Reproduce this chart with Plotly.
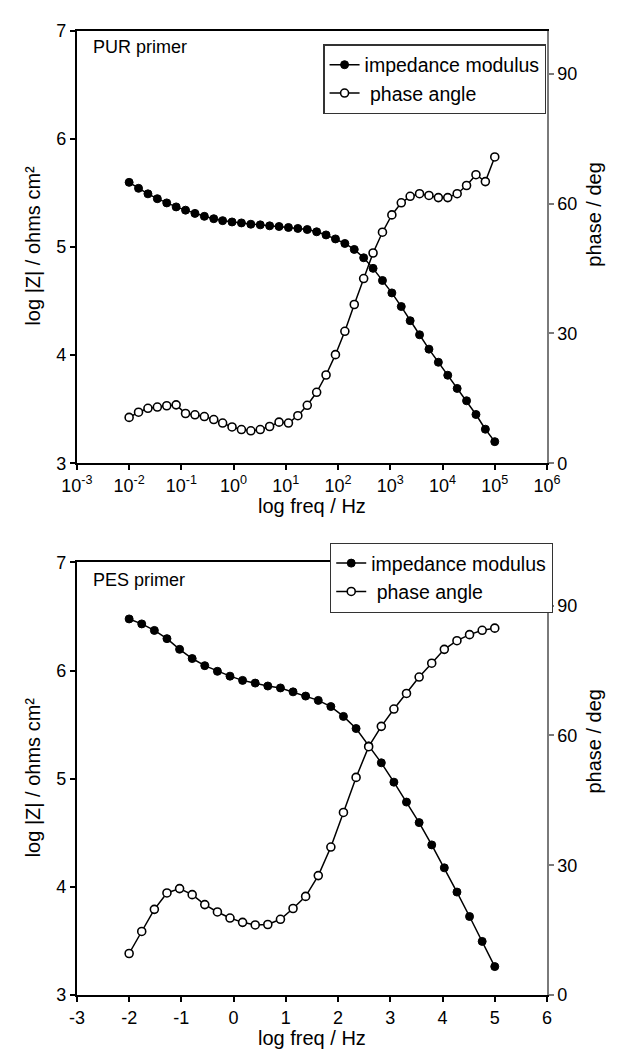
import plotly.graph_objects as go

W, H = 620, 1059

# ---------------- data ----------------
# PUR primer (top): log10 frequency of each measurement point
pur_logf = [-2.00, -1.82, -1.64, -1.46, -1.28, -1.10, -0.92, -0.74, -0.56, -0.38,
            -0.21, -0.03, 0.15, 0.33, 0.51, 0.69, 0.87, 1.05, 1.23, 1.41,
            1.59, 1.77, 1.95, 2.13, 2.31, 2.49, 2.67, 2.85, 3.03, 3.21,
            3.38, 3.56, 3.74, 3.92, 4.10, 4.28, 4.46, 4.64, 4.82, 5.00]
pur_logz = [5.597, 5.542, 5.491, 5.446, 5.407, 5.370, 5.340, 5.310, 5.283, 5.261,
            5.243, 5.231, 5.222, 5.210, 5.204, 5.195, 5.189, 5.180, 5.171, 5.161,
            5.140, 5.111, 5.074, 5.032, 4.977, 4.900, 4.802, 4.690, 4.575, 4.449,
            4.318, 4.188, 4.055, 3.934, 3.814, 3.692, 3.578, 3.451, 3.315, 3.200]
pur_phase = [10.6, 11.8, 12.7, 13.0, 13.3, 13.5, 11.5, 11.2, 10.8, 10.1,
             9.3, 8.4, 7.8, 7.5, 7.8, 8.5, 9.5, 9.3, 11.0, 13.4,
             16.4, 20.4, 25.1, 30.5, 36.7, 42.7, 48.6, 53.4, 57.4, 60.2,
             61.7, 62.3, 61.9, 61.4, 61.4, 62.3, 64.2, 66.7, 65.1, 70.8]

# PES primer (bottom)
pes_logf = [-2.000, -1.759, -1.517, -1.276, -1.034, -0.793, -0.552, -0.310, -0.069, 0.172,
            0.414, 0.655, 0.897, 1.138, 1.379, 1.621, 1.862, 2.103, 2.345, 2.586,
            2.828, 3.069, 3.310, 3.552, 3.793, 4.034, 4.276, 4.517, 4.759, 5.000]
pes_logz = [6.477, 6.431, 6.371, 6.295, 6.196, 6.111, 6.045, 5.993, 5.948, 5.909,
            5.884, 5.857, 5.839, 5.803, 5.764, 5.724, 5.667, 5.576, 5.464, 5.304,
            5.147, 4.968, 4.784, 4.594, 4.388, 4.176, 3.952, 3.726, 3.496, 3.263]
pes_phase = [9.6, 14.7, 19.8, 23.6, 24.6, 23.2, 20.9, 19.2, 17.8, 16.8,
             16.2, 16.3, 17.5, 20.0, 22.8, 27.6, 34.2, 42.2, 50.3, 57.4,
             62.1, 66.1, 69.7, 73.5, 76.7, 79.9, 81.9, 83.3, 84.3, 84.8]

top_xtick_vals = [1e-3, 1e-2, 1e-1, 1e0, 1e1, 1e2, 1e3, 1e4, 1e5, 1e6]
top_xtick_text = ["10<sup>-3</sup>", "10<sup>-2</sup>", "10<sup>-1</sup>", "10<sup>0</sup>",
                  "10<sup>1</sup>", "10<sup>2</sup>", "10<sup>3</sup>", "10<sup>4</sup>",
                  "10<sup>5</sup>", "10<sup>6</sup>"]
bot_xtick_vals = [-3, -2, -1, 0, 1, 2, 3, 4, 5, 6]
bot_xtick_text = ["-3", "-2", "-1", "0", "1", "2", "3", "4", "5", "6"]
phase_ticks = [0, 30, 60, 90]

legend_names = ["impedance modulus", " phase angle"]

# ---------------- layout helpers ----------------
FONT = "Liberation Sans, Arial, sans-serif"
def px_x(x):
    return x / W
def px_y(y):
    return 1 - y / H

left, right = 64, 558
top_dom = [px_y(462), px_y(21)]
bot_dom = [px_y(1004), px_y(563)]

filled = dict(symbol="circle", size=8, color="black", line=dict(color="black", width=1))
hollow = dict(symbol="circle", size=8, color="white", line=dict(color="black", width=1.6))
lw = 1.5

fig = go.Figure()
pur_f = [10 ** v for v in pur_logf]
fig.add_trace(go.Scatter(x=pur_f, y=pur_logz, mode="lines+markers", name=legend_names[0],
                         line=dict(color="black", width=lw), marker=filled,
                         xaxis="x", yaxis="y", legend="legend"))
fig.add_trace(go.Scatter(x=pur_f, y=pur_phase, mode="lines+markers", name=legend_names[1],
                         line=dict(color="black", width=lw), marker=hollow,
                         xaxis="x", yaxis="y2", legend="legend"))
fig.add_trace(go.Scatter(x=pes_logf, y=pes_logz, mode="lines+markers", name=legend_names[0],
                         line=dict(color="black", width=lw), marker=filled,
                         xaxis="x2", yaxis="y3", legend="legend2"))
fig.add_trace(go.Scatter(x=pes_logf, y=pes_phase, mode="lines+markers", name=legend_names[1],
                         line=dict(color="black", width=lw), marker=hollow,
                         xaxis="x2", yaxis="y4", legend="legend2"))

tickfont = dict(family=FONT, size=18, color="black")
common_x = dict(showline=True, linecolor="black", linewidth=2, mirror=True,
                ticks="outside", ticklen=5, tickwidth=1.5, tickcolor="black",
                showgrid=False, zeroline=False, tickfont=tickfont,
                domain=[px_x(left), px_x(right)])
common_yl = dict(showline=True, linecolor="black", linewidth=2, side="left",
                 ticks="outside", ticklen=5, tickwidth=1.5, tickcolor="black",
                 showgrid=False, zeroline=False, tickfont=tickfont,
                 range=[3, 7], tickvals=[3, 4, 5, 6, 7])
common_yr = dict(showline=True, linecolor="#7a7a7a", linewidth=1.5, side="right",
                 ticks="outside", ticklen=5, tickwidth=1.5, tickcolor="#7a7a7a",
                 showgrid=False, zeroline=False, tickfont=tickfont,
                 range=[0, 100], tickvals=phase_ticks)

fig.update_layout(
    width=W, height=H, margin=dict(l=0, r=0, t=0, b=0),
    paper_bgcolor="white", plot_bgcolor="white",
    font=dict(family=FONT, size=18, color="black"),
    xaxis=dict(common_x, type="log", range=[-3, 6], tickvals=top_xtick_vals,
               ticktext=top_xtick_text, anchor="y"),
    yaxis=dict(common_yl, domain=top_dom, anchor="x"),
    yaxis2=dict(common_yr, overlaying="y", anchor="x"),
    xaxis2=dict(common_x, range=[-3, 6], tickvals=bot_xtick_vals,
                ticktext=bot_xtick_text, anchor="y3"),
    yaxis3=dict(common_yl, domain=bot_dom, anchor="x2"),
    yaxis4=dict(common_yr, overlaying="y3", anchor="x2"),
    legend=dict(x=px_x(323), y=px_y(35), xanchor="left", yanchor="top",
                bgcolor="white", bordercolor="#333333", borderwidth=1.2,
                font=dict(family=FONT, size=19.5, color="black"), tracegroupgap=0),
    legend2=dict(x=px_x(330), y=px_y(543), xanchor="left", yanchor="top",
                 bgcolor="white", bordercolor="#333333", borderwidth=1.2,
                 font=dict(family=FONT, size=19.5, color="black"), tracegroupgap=0),
    showlegend=True,
)

title_font = dict(family=FONT, size=20, color="black")
ann = []
for (yc_left, yc_right, y_xt, lbl, y_lbl) in [
        (240, 208, 506, "PUR primer", 38),
        (782, 745, 1048, "PES primer", 581)]:
    ann.append(dict(text="log |Z| / ohms cm²", x=px_x(18), y=px_y(yc_left), xref="paper", yref="paper",
                    textangle=-90, showarrow=False, font=title_font, xanchor="center", yanchor="middle"))
    ann.append(dict(text="phase / deg", x=px_x(607), y=px_y(yc_right), xref="paper", yref="paper",
                    textangle=-90, showarrow=False, font=title_font, xanchor="center", yanchor="middle"))
    ann.append(dict(text="log freq / Hz", x=px_x(311), y=px_y(y_xt), xref="paper", yref="paper",
                    showarrow=False, font=title_font, xanchor="center", yanchor="middle"))
    ann.append(dict(text=lbl, x=px_x(79), y=px_y(y_lbl), xref="paper", yref="paper",
                    showarrow=False, font=dict(family=FONT, size=18, color="black"),
                    xanchor="left", yanchor="middle"))
fig.update_layout(annotations=ann)

fig.write_html("out.html")
